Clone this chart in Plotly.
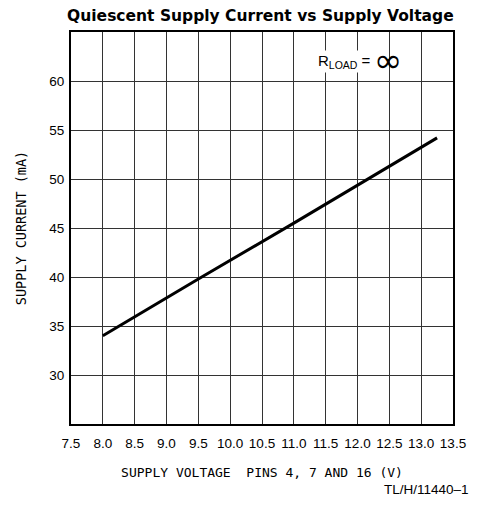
import plotly.graph_objects as go

supply_voltage = [8.0, 9.5, 11.0, 12.5, 13.25]
supply_current = [34.0, 39.8, 45.5, 51.3, 54.2]

x_ticks = [7.5, 8.0, 8.5, 9.0, 9.5, 10.0, 10.5, 11.0, 11.5, 12.0, 12.5, 13.0, 13.5]
x_tick_labels = ["7.5", "8.0", "8.5", "9.0", "9.5", "10.0", "10.5", "11.0", "11.5", "12.0", "12.5", "13.0", "13.5"]
y_ticks = [30, 35, 40, 45, 50, 55, 60]
y_tick_labels = ["30", "35", "40", "45", "50", "55", "60"]

fig = go.Figure()
fig.add_trace(go.Scatter(
    x=supply_voltage, y=supply_current, mode="lines",
    line=dict(color="black", width=3), showlegend=False, hoverinfo="skip"))

axis_common = dict(
    showgrid=True, gridcolor="#333333", gridwidth=1.2,
    showline=True, linecolor="black", linewidth=2, mirror=True,
    zeroline=False, tickfont=dict(family="Liberation Sans", size=13.5, color="black"),
)

fig.update_xaxes(range=[7.5, 13.5], tickvals=x_ticks, ticktext=x_tick_labels,
                 ticks="outside", ticklen=6, tickcolor="rgba(0,0,0,0)",
                 title=dict(text="SUPPLY VOLTAGE  PINS 4, 7 AND 16 (V)",
                            font=dict(family="DejaVu Sans Mono", size=13, color="black"), standoff=18),
                 **axis_common)
fig.update_yaxes(range=[25, 65], tickvals=y_ticks, ticktext=y_tick_labels,
                 ticks="outside", ticklen=2, tickcolor="rgba(0,0,0,0)",
                 title=dict(text="SUPPLY CURRENT (mA)",
                            font=dict(family="DejaVu Sans Mono", size=13.5, color="black"), standoff=20),
                 **axis_common)

fig.add_annotation(
    x=11.8, y=62.0, xref="x", yref="y", showarrow=False,
    text="R<sub>LOAD</sub> =",
    font=dict(family="Liberation Sans", size=15, color="black"),
    bgcolor="white", borderpad=1)

fig.add_annotation(
    x=12.48, y=62.0, xref="x", yref="y", showarrow=False, yshift=1,
    text="∞",
    font=dict(family="DejaVu Sans", size=34, color="black"),
    bgcolor="rgba(0,0,0,0)", borderpad=0)

fig.add_annotation(
    x=0.813, y=-0.166, xref="paper", yref="paper", xanchor="left", yanchor="middle",
    showarrow=False, text="TL/H/11440–1",
    font=dict(family="Liberation Sans", size=13.5, color="black"))

fig.update_layout(
    width=470, height=498,
    margin=dict(l=61, r=14, t=24, b=82),
    paper_bgcolor="white", plot_bgcolor="white",
    title=dict(text="<b>Quiescent Supply Current vs Supply Voltage</b>",
               x=0.537, xanchor="center", y=0.984, yanchor="middle",
               font=dict(family="DejaVu Sans", size=15.5, color="black")),
)

fig.write_html("out.html")
